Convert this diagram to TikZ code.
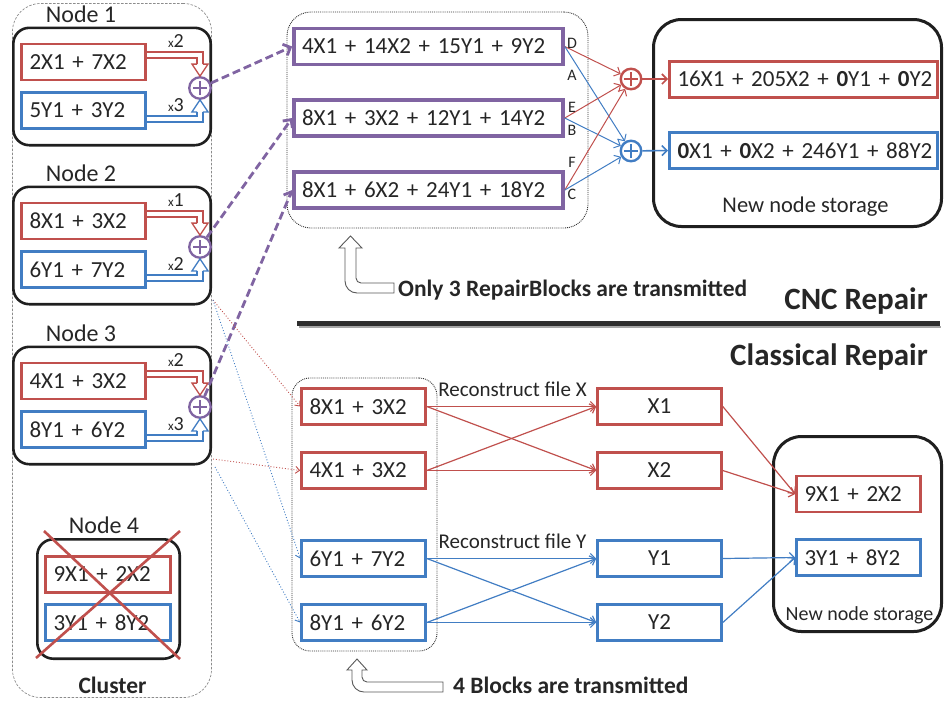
\documentclass[tikz,border=0pt]{standalone}
\usepackage{fontspec}
\setmainfont{Carlito}
\usetikzlibrary{arrows.meta,calc}
\definecolor{cred}{RGB}{192,80,77}
\definecolor{cblue}{RGB}{65,125,195}
\definecolor{cpur}{RGB}{128,100,162}
\definecolor{ctxt}{RGB}{38,38,38}
\newcommand\fs[1]{\fontsize{#1}{#1}\selectfont}
\tikzset{
 lbl/.style={inner sep=0pt, text=ctxt},
 cbox/.style={rectangle, line width=2.6pt, fill=white, minimum height=36pt, inner xsep=8pt, inner ysep=0pt, text width=108pt, font=\fs{23}, align=left, text=ctxt},
 rbox/.style={cbox, draw=cred},
 bbox/.style={cbox, draw=cblue},
 xbox/.style={cbox, align=center},
 pbox/.style={cbox, draw=cpur, line width=3.6pt, text width=253pt},
 wbox/.style={cbox, line width=3pt, text width=252pt},
 nodebox/.style={rectangle, draw=black!88, line width=2.6pt, rounded corners=16pt, minimum width=197.4pt, minimum height=117.4pt, inner sep=0pt},
 store/.style={rectangle, draw=black!88, line width=3pt, rounded corners=28pt, inner sep=0pt},
 dotbox/.style={rectangle, draw=black!80, line width=0.9pt, densely dotted, rounded corners=22pt, inner sep=0pt},
 purcirc/.style={circle, draw=cpur, line width=2.3pt, fill=white, minimum size=21.5pt, inner sep=0pt},
 pcirc/.style={circle, line width=2.4pt, fill=white, minimum size=20.5pt, inner sep=0pt},
 conn/.style={line width=1.2pt, -{Straight Barb[length=5pt,width=10pt]}},
 dotc/.style={line width=0.9pt, dotted, -{Straight Barb[length=4pt,width=7pt]}},
 pdash/.style={cpur, line width=2.8pt, dash pattern=on 8pt off 4pt, -{Straight Barb[length=6pt,width=12pt]}},
 uarrow/.style={draw=black!65, line width=0.9pt, fill=white},
}
% hollow arrow: #1 colour, #2 start, #3 tip, #4 sign (-1 head points down, +1 head points up)
\newcommand\hol[4]{%
 \draw[#1, line width=1.3pt, double=white, double distance=4.5pt] #2 -| ($#3+(0,{12*#4})$);
 \fill[white] ($#3+(-8,{12*#4})$) -- ($#3+(8,{12*#4})$) -- #3 -- cycle;
 \draw[#1, line width=1.3pt, line join=miter] ($#3+(-2.9,{12*#4})$) -- ($#3+(-8,{12*#4})$) -- #3 -- ($#3+(8,{12*#4})$) -- ($#3+(2.9,{12*#4})$);
}
% plus sign inside a circle node
\newcommand\plus[2]{%
 \draw[#2, line width=2.8pt] ([xshift=-7pt]#1.center) -- ([xshift=7pt]#1.center) ([yshift=-7pt]#1.center) -- ([yshift=7pt]#1.center);
}
% storage node: #1 id, #2 circle y, #3 label, #4 red, #5 blue, #6 red factor, #7 blue factor
\newcommand\nodeblock[7]{%
 \node[nodebox] (#1box) at (112,{#2-1.5}) {};
 \node[lbl, font=\fs{24}, anchor=base] (#1lab) at (81,{#2-65.3}) {#3};
 \node[purcirc] (#1c) at (200,#2) {};
 \plus{#1c}{cpur}
 \node[rbox] (#1r) at (83.5,{#2-26}) {#4};
 \node[bbox] (#1b) at (83.5,{#2+22.5}) {#5};
 \hol{cred}{($(#1r.east)+(0,-7)$)}{(#1c.north)}{-1}
 \hol{cblue}{($(#1b.east)+(0,8.5)$)}{(#1c.south)}{1}
 \node[lbl, font=\fs{20}, anchor=base] (#1fr) at (176,{#2-40.6}) {{\fs{13}x}#6};
 \node[lbl, font=\fs{20}, anchor=base] (#1fb) at (176,{#2+23.4}) {{\fs{13}x}#7};
}
\begin{document}
\begin{tikzpicture}[x=1pt,y=-1pt]
\useasboundingbox (0,0) rectangle (944,702);
% ---------- cluster ----------
\node[rectangle, draw=black!45, line width=0.7pt, dash pattern=on 2.5pt off 1.5pt, rounded corners=28pt, minimum width=199pt, minimum height=694pt, inner sep=0pt] (cluster) at (112,350.5) {};
\nodeblock{n1}{88}{Node 1}{2X1 + 7X2}{5Y1 + 3Y2}{2}{3}
\nodeblock{n2}{247}{Node 2}{8X1 + 3X2}{6Y1 + 7Y2}{1}{2}
\nodeblock{n3}{407}{Node 3}{4X1 + 3X2}{8Y1 + 6Y2}{2}{3}
% node 4 (failed)
\node[nodebox, minimum width=142.4pt, minimum height=119.4pt] (n4box) at (108.5,599) {};
\node[lbl, font=\fs{24}, anchor=base] (n4lab) at (104,533.7) {Node 4};
\node[rbox, text width=109pt] (n4r) at (108,574.5) {9X1 + 2X2};
\node[bbox, text width=109pt] (n4b) at (108,622.5) {3Y1 + 8Y2};
\draw[cred, line width=2.6pt] (44,531) -- (180,659);
\draw[cred, line width=2.6pt] (36,658) -- (180,531);
\node[lbl, font=\bfseries\fs{23.5}, anchor=base] (clab) at (112.5,693.5) {Cluster};
% ---------- CNC repair ----------
\node[dotbox, minimum width=301pt, minimum height=216pt, rounded corners=24pt] (cncbox) at (437.5,120) {};
\node[pbox] (p1) at (428.5,46.5) {\mbox{4X1 + 14X2 + 15Y1 + 9Y2}};
\node[pbox] (p2) at (428.5,118) {\mbox{8X1 + 3X2 + 12Y1 + 14Y2}};
\node[pbox] (p3) at (428.5,190) {\mbox{8X1 + 6X2 + 24Y1 + 18Y2}};
\node[store, minimum width=288pt, minimum height=207pt] (st1) at (797.5,123) {};
\node[wbox, draw=cred] (o1) at (803.5,79) {\mbox{16X1 + 205X2 + {\bfseries 0}Y1 + {\bfseries 0}Y2}};
\node[wbox, draw=cblue] (o2) at (803.5,150.5) {\mbox{{\bfseries 0}X1 + {\bfseries 0}X2 + 246Y1 + 88Y2}};
\node[lbl, font=\fs{22.5}, anchor=base] (st1lab) at (805.5,212.5) {New node storage};
\node[pcirc, draw=cred] (cr) at (631,79) {};
\node[pcirc, draw=cblue] (cb) at (631,151) {};
\plus{cr}{cred}
\plus{cb}{cblue}
\foreach \p in {p1,p2,p3}{
 \draw[conn, cred, line width=1pt] (\p.east) -- (cr);
 \draw[conn, cblue, line width=1pt] (\p.east) -- (cb);
}
\draw[conn, cred, line width=1.6pt] (cr) -- (o1.west);
\draw[conn, cblue, line width=1.6pt] (cb) -- (o2.west);
\foreach \t/\yy in {D/48,A/80,E/112,B/135,F/167,C/199}{
 \node[lbl, font=\fs{16}, anchor=base] (lab\t) at (572,\yy) {\t};
}
\draw[pdash] (n1c) -- (p1.west);
\draw[pdash] (n2c) -- (p2.west);
\draw[pdash] (n3c) -- (p3.west);
% U arrow 1
\draw[uarrow] (394,283) -- (361,283) to[out=180,in=270] (356,278) -- (356,248) -- (362,248) -- (350.5,236) -- (339,248) -- (345,248) -- (345,281) to[out=270,in=180] (357,293) -- (394,293) -- cycle;
\node[lbl, font=\bfseries\fs{23.5}, anchor=base west] (t3) at (398,296) {Only 3 RepairBlocks are transmitted};
\node[lbl, font=\bfseries\fs{31}, anchor=base east] (tcnc) at (928,309) {CNC Repair};
% divider
\draw[black!35, line width=2pt] (299,327) -- (941,327);
\draw[black!82, line width=5pt] (297,323) -- (940,323);
\node[lbl, font=\bfseries\fs{31}, anchor=base east] (tcl) at (928,365) {Classical Repair};
% ---------- Classical repair ----------
\node[dotbox, minimum width=145pt, minimum height=273pt, rounded corners=18pt] (clbox) at (364.5,514.5) {};
\node[rbox] (c1) at (363.5,406.5) {8X1 + 3X2};
\node[rbox] (c2) at (363.5,470.5) {4X1 + 3X2};
\node[bbox] (c3) at (363.5,558.5) {6Y1 + 7Y2};
\node[bbox] (c4) at (363.5,622.5) {8Y1 + 6Y2};
\node[xbox, draw=cred] (x1) at (659.5,406.5) {X1};
\node[xbox, draw=cred] (x2) at (659.5,470.5) {X2};
\node[xbox, draw=cblue] (y1) at (659.5,558.5) {Y1};
\node[xbox, draw=cblue] (y2) at (659.5,622.5) {Y2};
\node[lbl, font=\fs{21}, anchor=base] (rx) at (512.5,396) {Reconstruct file X};
\node[lbl, font=\fs{21}, anchor=base] (ry) at (512.5,548) {Reconstruct file Y};
\node[store, minimum width=168pt, minimum height=195pt] (st2) at (857.5,534) {};
\node[rbox] (s2r) at (858.5,494) {9X1 + 2X2};
\node[bbox] (s2b) at (858.5,557.5) {3Y1 + 8Y2};
\node[lbl, font=\fs{20}, anchor=base] (st2lab) at (859.5,620) {New node storage};
\foreach \a in {c1,c2}{\foreach \b in {x1,x2}{\draw[conn, cred] (\a.east) -- (\b.west);}}
\foreach \a in {c3,c4}{\foreach \b in {y1,y2}{\draw[conn, cblue] (\a.east) -- (\b.west);}}
\draw[conn, cred] (x1.east) -- (s2r.west);
\draw[conn, cred] (x2.east) -- (s2r.west);
\draw[conn, cblue] (y1.east) -- (s2b.west);
\draw[conn, cblue] (y2.east) -- (s2b.west);
% dotted transfers from the cluster
\coordinate (s2) at (213,300);
\coordinate (s3r) at (213,459);
\coordinate (s3b) at (215,467);
\draw[dotc, cred] (s2) -- (c1.west);
\draw[dotc, cred] (s3r) -- (c2.west);
\draw[dotc, cblue] (s2) -- (c3.west);
\draw[dotc, cblue] (s3b) -- (c4.west);
% U arrow 2
\draw[uarrow] (443,682) -- (367,682) to[out=180,in=270] (362,677) -- (362,670) -- (367,670) -- (357,659) -- (347,670) -- (352,670) -- (352,680) to[out=270,in=180] (364,692) -- (443,692) -- cycle;
\node[lbl, font=\bfseries\fs{23.5}, anchor=base west] (t4) at (453,693.5) {4 Blocks are transmitted};
\end{tikzpicture}
\end{document}
